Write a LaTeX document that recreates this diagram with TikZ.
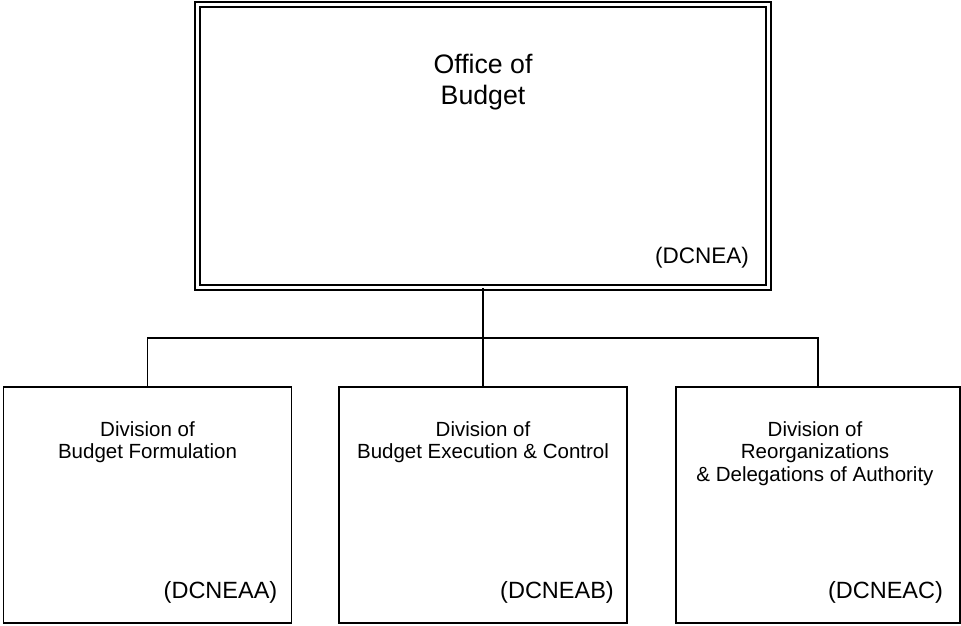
\documentclass[tikz,border=0pt]{standalone}
\usepackage{fontspec}
\setmainfont{Liberation Sans}
\usetikzlibrary{positioning}

\tikzset{
  office/.style={draw, double, double distance=3.2pt, line width=1.6pt,
    minimum width=571pt, minimum height=283pt, inner sep=0pt},
  division/.style={draw, line width=1.8pt, minimum width=288pt,
    minimum height=236pt, inner sep=0pt},
  title/.style={align=center, inner sep=0pt, font=\fontsize{26.7}{31}\selectfont},
  divname/.style={align=center, inner sep=0pt, anchor=north,
    font=\fontsize{20.5}{22.5}\selectfont},
  code/.style={inner sep=0pt, font=\fontsize{22.5}{27}\selectfont},
  wire/.style={line width=1.8pt}
}

\begin{document}
\begin{tikzpicture}[x=1pt,y=-1pt]
  \useasboundingbox (0,0) rectangle (961,626);

  % office on top
  \node[office] (office) at (483,146) {};
  \node[title] (officename) at (483,82) {Office of\\Budget};
  \node[code] (officecode) at (702,258) {(DCNEA)};

  % divisions
  \node[division] (formulation) at (147.5,505) {};
  \node[division] (execution) at (483,505) {};
  \node[division, minimum width=284pt] (reorg) at (818,505) {};

  \node[divname] (formulationname) at (147.5,421) {Division of\\Budget Formulation};
  \node[divname] (executionname) at (483,421) {Division of\\Budget Execution \& Control};
  \node[divname] (reorgname) at (815,421) {Division of\\Reorganizations\\\& Delegations of Authority};

  \node[code, font=\fontsize{23.5}{27}\selectfont] (formulationcode) at (220.5,592) {(DCNEAA)};
  \node[code, font=\fontsize{23.5}{27}\selectfont] (executioncode) at (557,592) {(DCNEAB)};
  \node[code, font=\fontsize{23.5}{27}\selectfont] (reorgcode) at (885.5,592) {(DCNEAC)};

  % connectors
  \coordinate (bus) at (483,338);
  \draw[wire] (office.south) -- (bus);
  \draw[wire] (formulation.north) |- (bus) -| (reorg.north);
  \draw[wire] (bus) -- (execution.north);
\end{tikzpicture}
\end{document}
